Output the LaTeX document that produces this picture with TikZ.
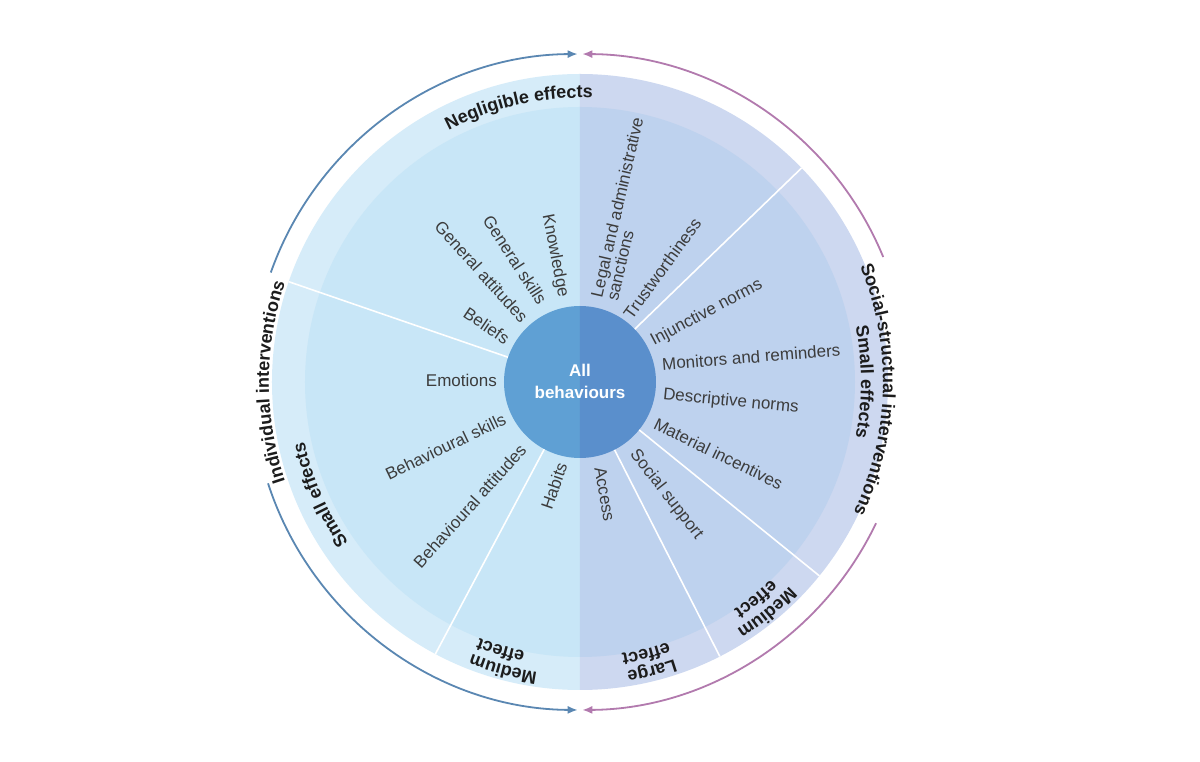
\documentclass[tikz,border=0pt]{standalone}
\usepackage{fontspec}
\setmainfont{Liberation Sans}
\usetikzlibrary{arrows.meta,decorations.text}
\definecolor{lband}{HTML}{D6ECF9}
\definecolor{lin}{HTML}{C8E6F7}
\definecolor{rband}{HTML}{CDD8F0}
\definecolor{rin}{HTML}{BED2EE}
\definecolor{hubl}{HTML}{5FA0D4}
\definecolor{hubr}{HTML}{5A8FCC}
\definecolor{labgray}{HTML}{3C3C3C}
\definecolor{labdark}{HTML}{1C1C1C}
\definecolor{arcblue}{HTML}{5A87B2}
\definecolor{arcpurple}{HTML}{B27AAE}
\newcommand\myarcfont{\bfseries\fontsize{18}{20}\selectfont\color{labdark}}
\begin{document}
\begin{tikzpicture}[x=1pt,y=1pt,
  lab/.style={font=\fontsize{17}{20}\selectfont, text=labgray, inner sep=0pt},
  labL/.style={lab, anchor=east},
  labR/.style={lab, anchor=west},
  divider/.style={white, line width=1.6pt},
  barc/.style={arcblue, line width=1.8pt, -{Latex[length=10pt,width=8pt]}},
  parc/.style={arcpurple, line width=1.8pt, -{Latex[length=10pt,width=8pt]}},
  arclab/.style={decorate, decoration={text along path, text align=center, text={|\myarcfont|#1}}},
]
\useasboundingbox (-580,-380) rectangle (620,382);
\fill[white] (-580,-380) rectangle (620,382);

% disc halves
\fill[lband] (90:308pt) arc[start angle=90,end angle=270,radius=308pt] -- cycle;
\fill[rband] (90:308pt) arc[start angle=90,end angle=-90,radius=308pt] -- cycle;
\fill[lin] (90:275pt) arc[start angle=90,end angle=270,radius=275pt] -- cycle;
\fill[rin] (90:275pt) arc[start angle=90,end angle=-90,radius=275pt] -- cycle;

% hub
\fill[hubl] (90:76pt) arc[start angle=90,end angle=270,radius=76pt] -- cycle;
\fill[hubr] (90:76pt) arc[start angle=90,end angle=-90,radius=76pt] -- cycle;
\node[circle, minimum size=152pt, inner sep=0pt] (hub) at (0,0) {};
\node[font=\bfseries\fontsize{17}{22}\selectfont, text=white, align=center] (hubtext) at (0,1) {All\\behaviours};

% dividers
\draw[divider] (hub.161) -- (161:308pt);
\draw[divider] (hub.242) -- (242:308pt);
\draw[divider] (hub.44) -- (44:308pt);
\draw[divider] (hub.-39) -- (-39:308pt);
\draw[divider] (hub.-63) -- (-63:308pt);

% left labels
\node[labL, rotate=-79] (knowledge) at (-17,85) {Knowledge};
\node[labL, rotate=-57] (genskills) at (-37,79) {General skills};
\node[labL, rotate=-48] (genatt) at (-55,62) {General attitudes};
\node[labL, rotate=-34] (beliefs) at (-72,42) {Beliefs};
\node[labL] (emotions) at (-83,2) {Emotions};
\node[labL, rotate=25.6] (behskills) at (-75,-36) {Behavioural skills};
\node[labL, rotate=48] (behatt) at (-57,-65) {Behavioural attitudes};
\node[labL, rotate=71] (habits) at (-18,-81) {Habits};

% right labels
\node[labR, rotate=77, align=left, font=\fontsize{17}{16}\selectfont] (legal) at (24,83) {Legal and administrative\\sanctions};
\node[labR, rotate=54] (trust) at (47,65) {Trustworthiness};
\node[labR, rotate=28] (injunctive) at (72,40) {Injunctive norms};
\node[labR, rotate=4.5] (monitors) at (82,18) {Monitors and reminders};
\node[labR, rotate=-5.6] (descriptive) at (83,-13) {Descriptive norms};
\node[labR, rotate=-26] (material) at (75,-41) {Material incentives};
\node[labR, rotate=-52] (social) at (53,-70) {Social support};
\node[labR, rotate=-80] (access) at (20,-85) {Access};

% section labels along the rim
\path[arclab={Negligible effects}] (162.5:284pt) arc[start angle=162.5,end angle=42.5,radius=284pt];
\path[arclab={Small effects}] (263.5:282pt) arc[start angle=263.5,end angle=143.5,radius=282pt];
\path[arclab={Small effects}] (60:281pt) arc[start angle=60,end angle=-60,radius=281pt];
\path[arclab={Medium}] (315:293pt) arc[start angle=315,end angle=195,radius=293pt];
\path[arclab={effect}] (313.5:275pt) arc[start angle=313.5,end angle=193.5,radius=275pt];
\path[arclab={Medium}] (9:293pt) arc[start angle=9,end angle=-111,radius=293pt];
\path[arclab={effect}] (9:275pt) arc[start angle=9,end angle=-111,radius=275pt];
\path[arclab={Large}] (-16:293pt) arc[start angle=-16,end angle=-136,radius=293pt];
\path[arclab={effect}] (-16.3:275pt) arc[start angle=-16.3,end angle=-136.3,radius=275pt];

% intervention arcs
\draw[barc] (160.5:328pt) arc[start angle=160.5,end angle=90.4,radius=328pt];
\draw[barc] (198:328pt) arc[start angle=198,end angle=269.6,radius=328pt];
\draw[parc] (22.4:328pt) arc[start angle=22.4,end angle=89.6,radius=328pt];
\draw[parc] (-25.5:328pt) arc[start angle=-25.5,end angle=-89.6,radius=328pt];
\path[arclab={Individual interventions}] (240:311pt) arc[start angle=240,end angle=120,radius=311pt];
\path[arclab={Social-structual interventions}] (58.5:303pt) arc[start angle=58.5,end angle=-61.5,radius=303pt];
\end{tikzpicture}
\end{document}
